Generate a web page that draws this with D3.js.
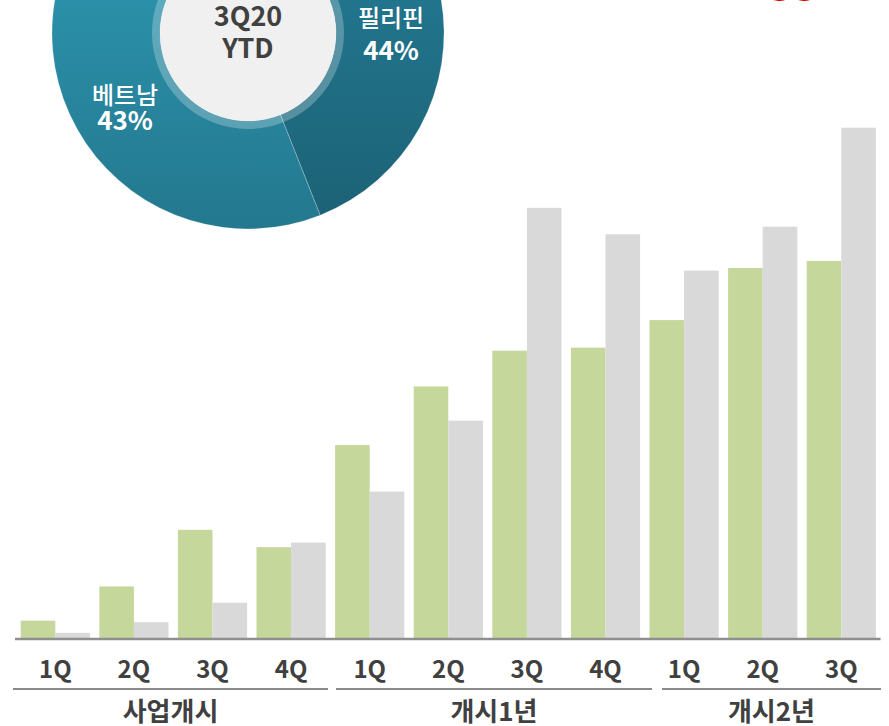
<!DOCTYPE html>
<html lang="ko">
<head>
<meta charset="utf-8">
<script src="https://cdn.jsdelivr.net/npm/d3@7"></script>
<style>
  html, body { margin: 0; padding: 0; background: #fff; }
  svg { display: block; }
  text { font-family: "Noto Sans CJK KR", "Noto Sans", sans-serif; }
</style>
</head>
<body>
<svg id="chart" width="889" height="726"></svg>
<script>
// ---- data ----
const quarters = ["1Q", "2Q", "3Q", "4Q", "1Q", "2Q", "3Q", "4Q", "1Q", "2Q", "3Q"];
const periodNames = ["사업개시", "개시1년", "개시2년"];
const seriesGreen = [3.4, 10.1, 21.2, 17.8, 37.8, 49.3, 56.3, 56.9, 62.3, 72.5, 73.9];
const seriesGray  = [1.0, 3.1, 6.9, 18.7, 28.7, 42.6, 84.3, 79.1, 72.0, 80.6, 100.0];

const countryNames = ["필리핀", "베트남", "기타"];
const countryShares = [44, 43, 13];
const centerLines = ["3Q20", "YTD"];

// ---- layout ----
const svg = d3.select("#chart");
const baseY = 638;
const textDark = "#404040";

// bars
const x0 = d3.scaleBand()
  .domain(d3.range(quarters.length))
  .range([16, 880.6])
  .paddingInner(0.12)
  .paddingOuter(0.06);
const x1 = d3.scaleBand()
  .domain(["green", "gray"])
  .range([0, x0.bandwidth()]);
const y = d3.scaleLinear().domain([0, 100]).range([baseY, 127.7]);

const barColors = { green: "#c5d79b", gray: "#d9d9d9" };
const rows = quarters.map((q, i) => ({ i, green: seriesGreen[i], gray: seriesGray[i] }));

const groups = svg.append("g").attr("class", "bars")
  .selectAll("g").data(rows).join("g")
  .attr("transform", d => `translate(${x0(d.i)},0)`);

groups.selectAll("rect")
  .data(d => ["green", "gray"].map(k => ({ k, v: d[k] })))
  .join("rect")
  .attr("x", d => x1(d.k))
  .attr("y", d => y(d.v))
  .attr("width", x1.bandwidth())
  .attr("height", d => baseY - y(d.v))
  .attr("fill", d => barColors[d.k]);

// baseline
svg.append("line")
  .attr("x1", 15).attr("x2", 880.6)
  .attr("y1", baseY + 1).attr("y2", baseY + 1)
  .attr("stroke", "#8f8f8f").attr("stroke-width", 2.5);

// quarter labels via axis
const xAxis = d3.axisBottom(x0)
  .tickSize(0)
  .tickPadding(0)
  .tickFormat(i => quarters[i]);
const axisG = svg.append("g")
  .attr("transform", `translate(0,${baseY})`)
  .call(xAxis);
axisG.select(".domain").remove();
axisG.selectAll("text")
  .attr("dy", null)
  .attr("y", 40)
  .attr("font-family", "'Noto Sans', 'Noto Sans CJK KR', sans-serif")
  .attr("font-size", 24)
  .attr("font-weight", 700)
  .attr("fill", textDark);

// period underlines and labels
const periodLines = [[13, 328], [336, 652], [662, 881]];
const periodG = svg.append("g");
periodG.selectAll("line").data(periodLines).join("line")
  .attr("x1", d => d[0]).attr("x2", d => d[1])
  .attr("y1", 689).attr("y2", 689)
  .attr("stroke", "#8a8a8a").attr("stroke-width", 2);
periodG.selectAll("text").data(periodNames).join("text")
  .attr("x", (d, i) => (periodLines[i][0] + periodLines[i][1]) / 2)
  .attr("y", 721)
  .attr("text-anchor", "middle")
  .attr("font-size", 26)
  .attr("font-weight", 700)
  .attr("fill", textDark)
  .text(d => d);

// ---- donut ----
const cx = 248, cy = 33;
const outerR = 196, innerR = 88, ringR = 96;
const defs = svg.append("defs");
const grads = [
  { id: "gPh", top: "#24809a", bottom: "#1b5e71" },
  { id: "gVn", top: "#2f9cb8", bottom: "#22758a" },
  { id: "gEt", top: "#3aa6c0", bottom: "#2a86a0" }
];
grads.forEach(g => {
  const lg = defs.append("linearGradient")
    .attr("id", g.id)
    .attr("gradientUnits", "userSpaceOnUse")
    .attr("x1", 0).attr("x2", 0)
    .attr("y1", cy - outerR).attr("y2", cy + outerR);
  lg.append("stop").attr("offset", "0%").attr("stop-color", g.top);
  lg.append("stop").attr("offset", "100%").attr("stop-color", g.bottom);
});

const pie = d3.pie().sort(null).value(d => d)(countryShares);
const arc = d3.arc().innerRadius(innerR).outerRadius(outerR);
const donut = svg.append("g").attr("transform", `translate(${cx},${cy})`);
donut.selectAll("path").data(pie).join("path")
  .attr("d", arc)
  .attr("fill", (d, i) => `url(#${grads[i].id})`)
  .attr("stroke", "rgba(255,255,255,0.35)")
  .attr("stroke-width", 0.6);

// translucent ring round the hole
donut.append("circle").attr("r", (innerR + ringR) / 2)
  .attr("fill", "none")
  .attr("stroke", "rgba(255,255,255,0.25)")
  .attr("stroke-width", ringR - innerR);
donut.append("circle").attr("r", innerR).attr("fill", "#f0f0f0");

// centre text
donut.selectAll("text.center").data(centerLines).join("text")
  .attr("class", "center")
  .attr("x", 0)
  .attr("y", (d, i) => -7 + i * 32)
  .attr("text-anchor", "middle")
  .attr("font-family", "'Noto Sans', sans-serif")
  .attr("font-size", 27)
  .attr("font-weight", 600)
  .attr("fill", textDark)
  .text(d => d);

// slice labels
const labelPos = [[391, 27, 60], [125, 104, 130]];
countryNames.slice(0, 2).forEach((name, i) => {
  const [lx, ly1, ly2] = labelPos[i];
  svg.append("text")
    .attr("x", lx).attr("y", ly1)
    .attr("text-anchor", "middle")
    .attr("font-size", 24)
    .attr("font-weight", 500)
    .attr("fill", "#fff")
    .text(name);
  svg.append("text")
    .attr("x", lx).attr("y", ly2)
    .attr("text-anchor", "middle")
    .attr("font-family", "'Noto Sans', sans-serif")
    .attr("font-size", 26)
    .attr("font-weight", 600)
    .attr("fill", "#fff")
    .text(countryShares[i] + "%");
});

// red note at the top right
svg.append("text")
  .attr("x", 791).attr("y", -2)
  .attr("text-anchor", "middle")
  .attr("font-size", 28)
  .attr("font-weight", 700)
  .attr("fill", "#e00000")
  .text("성장");
</script>
</body>
</html>
